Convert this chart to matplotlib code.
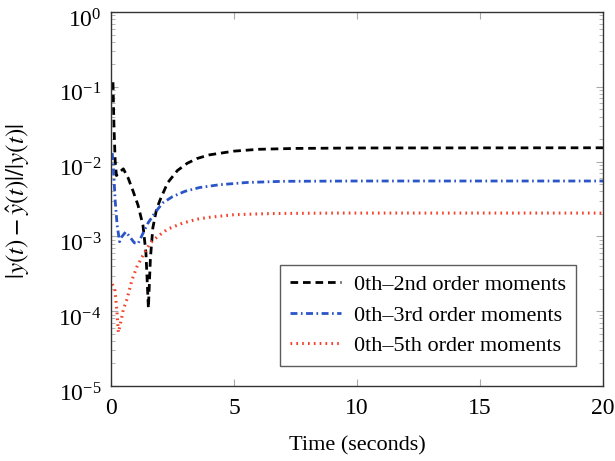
import matplotlib
matplotlib.use("Agg")
import matplotlib.pyplot as plt
import matplotlib.transforms as mtransforms
import numpy as np

# ---- data ----
t_2nd = [0.08, 0.12, 0.17, 0.22, 0.3, 0.5, 0.7, 0.9, 1.1, 1.3, 1.42, 1.52, 1.6, 1.7, 1.85,
         2.0, 2.3, 2.7, 3.1, 3.5, 4.0, 5.0, 6.0, 7.5, 10, 20]
e_2nd = [1.15e-1, 3e-2, 1e-2, 6.5e-3, 7e-3, 8e-3, 6e-3, 4e-3, 2.6e-3, 1.4e-3, 6e-4, 1.1e-4, 5e-4,
         1.3e-3, 2.3e-3, 3.1e-3, 5.2e-3, 7.6e-3, 9.5e-3, 1.1e-2, 1.23e-2, 1.38e-2, 1.46e-2,
         1.5e-2, 1.52e-2, 1.53e-2]

t_3rd = [0.05, 0.1, 0.17, 0.25, 0.35, 0.45, 0.6, 0.75, 0.95, 1.1, 1.3, 1.5, 1.8, 2.1, 2.5,
         3.0, 3.6, 4.4, 5.5, 7, 10, 20]
e_3rd = [1.3e-2, 8e-3, 3e-3, 1.4e-3, 8.5e-4, 1.0e-3, 1.15e-3, 1.0e-3, 8.2e-4, 8.0e-4, 1.1e-3,
         1.5e-3, 2.1e-3, 2.8e-3, 3.4e-3, 4.0e-3, 4.5e-3, 4.9e-3, 5.25e-3, 5.45e-3, 5.5e-3, 5.5e-3]

t_5th = [0.05, 0.16, 0.24, 0.3, 0.37, 0.5, 0.65, 0.85, 1.05, 1.3, 1.6, 1.9, 2.3, 2.9, 3.5,
         4.0, 5.0, 6.5, 9, 20]
e_5th = [2.3e-4, 1.9e-4, 1.0e-4, 5.2e-5, 6.5e-5, 1.05e-4, 1.45e-4, 2.6e-4, 3.9e-4, 5.6e-4,
         8.2e-4, 1.0e-3, 1.25e-3, 1.5e-3, 1.7e-3, 1.8e-3, 1.95e-3, 2.02e-3, 2.05e-3, 2.05e-3]

labels = ["0th\u20132nd order moments", "0th\u20133rd order moments", "0th\u20135th order moments"]
x_ticks = [0, 5, 10, 15, 20]

plt.rcParams['font.family'] = ['Liberation Serif', 'DejaVu Serif']
plt.rcParams['mathtext.fontset'] = 'stix'
plt.rcParams['lines.scale_dashes'] = False

fig = plt.figure(figsize=(6.15, 4.61), dpi=100)
ax = fig.add_axes([0.1805, 0.1627, 0.8, 0.8113])

ax.plot(t_2nd, e_2nd, color='black', lw=2.0, dashes=(5.5, 3.5), label=labels[0])
ax.plot(t_3rd, e_3rd, color='#2a55c8', lw=2.0, dashes=(5, 2.5, 1.2, 2.5), label=labels[1])
ax.plot(t_5th, e_5th, color='#f4422a', lw=2.2, dashes=(1.2, 3.0), label=labels[2])

ax.set_yscale('log')
ax.set_ylim(1e-5, 1)
ax.set_xlim(0, 20)
ax.set_xticks(x_ticks)
ax.set_xticklabels([str(v) for v in x_ticks])
ax.set_yticks([1e-5, 1e-4, 1e-3, 1e-2, 1e-1, 1])

ax.tick_params(which='both', direction='in', top=True, right=True, color='#aaaaaa',
               labelsize=17)
ax.tick_params(axis='x', pad=9)
ax.tick_params(axis='y', pad=7)
ax.tick_params(which='major', length=5, width=0.8)
ax.tick_params(which='minor', length=3, width=0.6)
ax.tick_params(axis='x', which='minor', top=False, bottom=False)
for s in ax.spines.values():
    s.set_color('#333333')
    s.set_linewidth(1.0)

# shift y tick labels slightly down (exponent aligned with tick, as in reference)
offset = mtransforms.ScaledTranslation(0, -6 / 100, fig.dpi_scale_trans)
for lab in ax.get_yticklabels():
    lab.set_transform(lab.get_transform() + offset)

ax.set_xlabel('Time (seconds)', fontsize=16, labelpad=12)
ax.set_ylabel(r'$|y(t)-\hat{y}(t)|/|y(t)|$', fontsize=18)
ax.yaxis.set_label_coords(-0.16, 0.495)

leg = ax.legend(loc='lower right', fontsize=16, frameon=True, fancybox=False,
                edgecolor='#333333', handlelength=2.3, handletextpad=0.6,
                borderpad=0.45, labelspacing=0.45, borderaxespad=0,
                bbox_to_anchor=(0.945, 0.053))
leg.get_frame().set_linewidth(1.0)

fig.savefig('out.png', dpi=100)
